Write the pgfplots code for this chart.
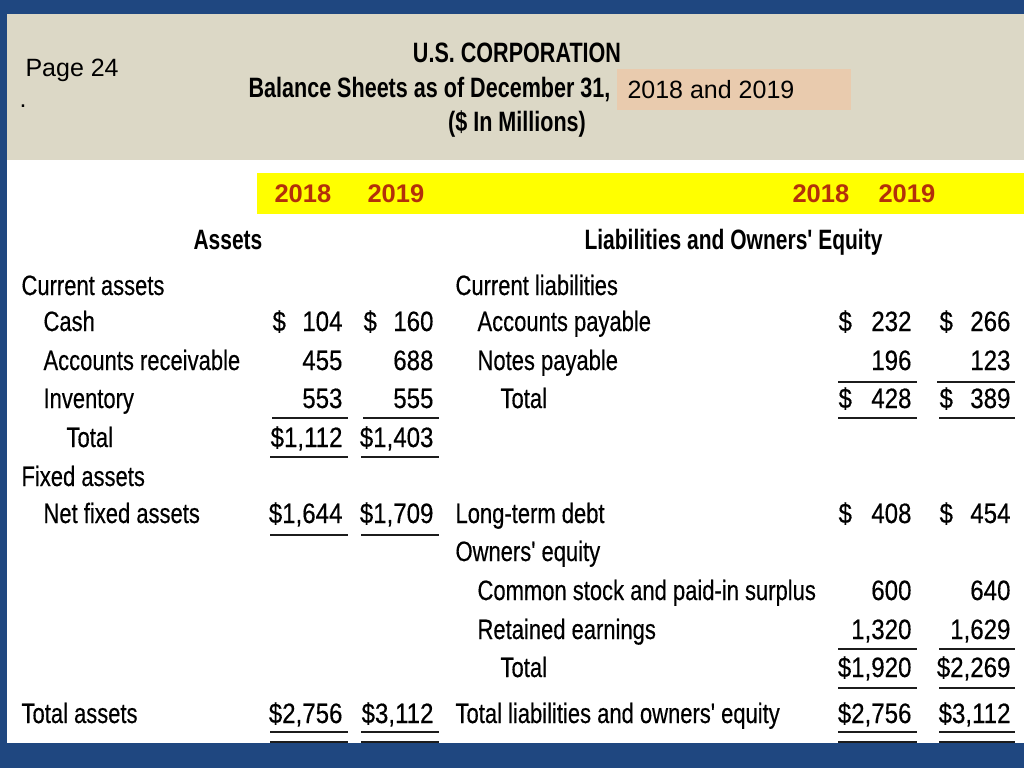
\documentclass[border=0pt]{standalone}
\usepackage{pgfplots}
\pgfplotsset{compat=1.18}
\usepackage{fontspec}
\setmainfont{Liberation Sans}
\newfontfamily\cond[FakeStretch=0.785,FakeBold=0.35]{Liberation Sans}
\newfontfamily\condn[FakeStretch=0.86,FakeBold=0.35]{Liberation Sans}
\newfontfamily\condb[FakeStretch=0.75]{Liberation Sans}
\newfontfamily\condt[FakeStretch=0.77]{Liberation Sans}
\definecolor{frame}{HTML}{1F4780}
\definecolor{beige}{HTML}{DCD8C6}
\definecolor{peach}{HTML}{E9CBAE}
\definecolor{yel}{HTML}{FFFF00}
\definecolor{yr}{HTML}{B3300A}
\definecolor{txt}{HTML}{1C1C1C}
\newcommand{\fs}{\fontsize{28}{30}\selectfont}
\newcommand{\TL}[3]{\node[anchor=base west,font=\cond\fs] at (axis cs:#1-3,#2) {#3};}
\newcommand{\TB}[3]{\node[anchor=base west,font=\condb\bfseries\fs] at (axis cs:#1-2,#2) {#3};}
\newcommand{\NR}[3]{\node[anchor=base east,font=\condn\fs] at (axis cs:#1,#2) {#3};}
\newcommand{\NL}[3]{\node[anchor=base west,font=\condn\fs] at (axis cs:#1-3,#2) {#3};}
\newcommand{\UL}[3]{\draw[line width=2.4pt,txt] (axis cs:#1,#3) -- (axis cs:#2,#3);}
\begin{document}
\begin{tikzpicture}
\begin{axis}[scale only axis, width=1024pt, height=768pt,
  xmin=0, xmax=1024, ymin=0, ymax=768, y dir=reverse,
  hide axis, clip=false,
  every node/.append style={inner sep=0pt, outer sep=0pt, text=txt}]
% backgrounds
\fill[frame] (axis cs:0,0) rectangle (axis cs:1024,768);
\fill[white] (axis cs:7,160) rectangle (axis cs:1024,743);
\fill[beige] (axis cs:7,14) rectangle (axis cs:1024,160);
\fill[peach] (axis cs:617,69) rectangle (axis cs:851,110);
\fill[yel] (axis cs:257,173) rectangle (axis cs:1024,214);
% header
\node[anchor=base west,font=\fontsize{25}{27}\selectfont] at (axis cs:22,76) {Page 24};
\node[anchor=base west,font=\fontsize{25}{27}\selectfont] at (axis cs:16,107) {.};
\node[anchor=base,font=\condt\bfseries\fs] at (axis cs:517,63) {U.S. CORPORATION};
\node[anchor=base east,font=\condt\bfseries\fs] at (axis cs:614,97) {Balance Sheets as of December 31,};
\node[anchor=base west,font=\fontsize{25}{27}\selectfont] at (axis cs:624,98) {2018 and 2019};
\node[anchor=base,font=\condt\bfseries\fs] at (axis cs:517,131) {(\$ In Millions)};
% year band
\node[anchor=base west,font=\bfseries\fontsize{25.5}{27}\selectfont,text=yr] at (axis cs:271,202) {2018};
\node[anchor=base west,font=\bfseries\fontsize{25.5}{27}\selectfont,text=yr] at (axis cs:364,202) {2019};
\node[anchor=base west,font=\bfseries\fontsize{25.5}{27}\selectfont,text=yr] at (axis cs:789,202) {2018};
\node[anchor=base west,font=\bfseries\fontsize{25.5}{27}\selectfont,text=yr] at (axis cs:875,202) {2019};
% section headings
\TB{192}{249}{Assets}
\TB{583}{249}{Liabilities and Owners' Equity}
% left labels
\TL{21}{295}{Current assets}
\TL{43}{331}{Cash}
\TL{43}{370}{Accounts receivable}
\TL{43}{408}{Inventory}
\TL{66}{447}{Total}
\TL{21}{486}{Fixed assets}
\TL{43}{523}{Net fixed assets}
\TL{21}{723}{Total assets}
% left values (2018 | 2019)
\NL{272}{331}{\$}\NR{346}{331}{104}\NL{363}{331}{\$}\NR{437}{331}{160}
\NR{346}{370}{455}\NR{437}{370}{688}
\NR{346}{408}{553}\NR{437}{408}{555}
\NR{346}{447}{\$1,112}\NR{437}{447}{\$1,403}
\NR{346}{523}{\$1,644}\NR{437}{523}{\$1,709}
\NR{346}{723}{\$2,756}\NR{437}{723}{\$3,112}
% right labels
\TL{455}{295}{Current liabilities}
\TL{477}{331}{Accounts payable}
\TL{477}{370}{Notes payable}
\TL{500}{408}{Total}
\TL{455}{523}{Long-term debt}
\TL{455}{561}{Owners' equity}
\TL{477}{600}{Common stock and paid-in surplus}
\TL{477}{639}{Retained earnings}
\TL{500}{677}{Total}
\TL{455}{723}{Total liabilities and owners' equity}
% right values (2018 | 2019)
\NL{838}{331}{\$}\NR{915}{331}{232}\NL{939}{331}{\$}\NR{1014}{331}{266}
\NR{915}{370}{196}\NR{1014}{370}{123}
\NL{838}{408}{\$}\NR{915}{408}{428}\NL{939}{408}{\$}\NR{1014}{408}{389}
\NL{838}{523}{\$}\NR{915}{523}{408}\NL{939}{523}{\$}\NR{1014}{523}{454}
\NR{915}{600}{600}\NR{1014}{600}{640}
\NR{915}{639}{1,320}\NR{1014}{639}{1,629}
\NR{915}{677}{\$1,920}\NR{1014}{677}{\$2,269}
\NR{915}{723}{\$2,756}\NR{1014}{723}{\$3,112}
% underlines left
\UL{272}{348}{418}\UL{363}{439}{418}
\UL{270}{348}{457}\UL{361}{439}{457}
\UL{270}{348}{535}\UL{361}{439}{535}
\UL{270}{348}{732}\UL{361}{439}{732}
\UL{270}{348}{742}\UL{361}{439}{742}
% underlines right
\UL{838}{917}{382}\UL{937}{1015}{382}
\UL{838}{917}{418}\UL{939}{1015}{418}
\UL{838}{917}{649}\UL{939}{1015}{649}
\UL{838}{917}{688}\UL{939}{1015}{688}
\UL{838}{917}{732}\UL{939}{1015}{732}
\UL{838}{917}{742}\UL{939}{1015}{742}
% bottom frame bar on top
\fill[frame] (axis cs:0,743) rectangle (axis cs:1024,768);
\end{axis}
\end{tikzpicture}
\end{document}
